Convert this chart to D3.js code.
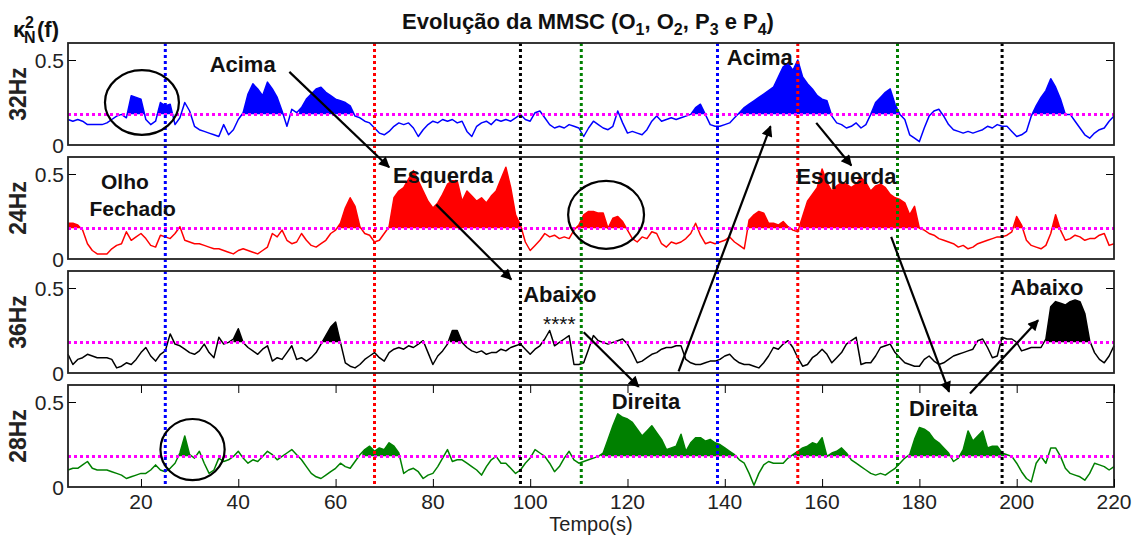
<!DOCTYPE html>
<html>
<head>
<meta charset="utf-8">
<script src="https://cdn.jsdelivr.net/npm/d3@7"></script>
<style>
body { margin: 0; background: #fff; }
text { font-family: "Liberation Sans", Arial, Helvetica, sans-serif; }
</style>
</head>
<body>
<div id="chart"></div>
<script>
// samples, one per second, from 5 s to 220 s
const seconds = d3.range(5, 221);

const kappa32Hz = [
    0.15, 0.14, 0.15, 0.14, 0.12, 0.12, 0.12, 0.12, 0.13, 0.15,
    0.17, 0.18, 0.16, 0.29, 0.28, 0.27, 0.15, 0.12, 0.14, 0.25,
    0.23, 0.24, 0.12, 0.16, 0.25, 0.20, 0.11, 0.09, 0.08, 0.07,
    0.06, 0.05, 0.12, 0.06, 0.09, 0.15, 0.19, 0.30, 0.36, 0.33,
    0.29, 0.37, 0.33, 0.28, 0.20, 0.11, 0.21, 0.19, 0.22, 0.27,
    0.30, 0.33, 0.34, 0.31, 0.29, 0.27, 0.26, 0.25, 0.23, 0.17,
    0.16, 0.14, 0.13, 0.10, 0.07, 0.06, 0.08, 0.11, 0.13, 0.12,
    0.13, 0.10, 0.05, 0.09, 0.12, 0.14, 0.13, 0.15, 0.14, 0.15,
    0.13, 0.14, 0.08, 0.05, 0.11, 0.13, 0.14, 0.12, 0.15, 0.14,
    0.15, 0.14, 0.16, 0.18, 0.15, 0.14, 0.19, 0.20, 0.16, 0.12,
    0.10, 0.11, 0.10, 0.12, 0.11, 0.10, 0.05, 0.10, 0.14, 0.12,
    0.10, 0.09, 0.11, 0.20, 0.13, 0.07, 0.08, 0.07, 0.06, 0.09,
    0.14, 0.17, 0.14, 0.15, 0.16, 0.15, 0.16, 0.17, 0.18, 0.22,
    0.24, 0.18, 0.12, 0.11, 0.11, 0.12, 0.13, 0.16, 0.19, 0.22,
    0.24, 0.26, 0.28, 0.30, 0.32, 0.34, 0.40, 0.46, 0.48, 0.44,
    0.50, 0.40, 0.36, 0.33, 0.29, 0.27, 0.26, 0.17, 0.13, 0.12,
    0.10, 0.11, 0.13, 0.10, 0.12, 0.18, 0.25, 0.28, 0.31, 0.33,
    0.24, 0.18, 0.15, 0.06, 0.04, 0.02, 0.10, 0.17, 0.20, 0.21,
    0.17, 0.12, 0.09, 0.08, 0.07, 0.08, 0.07, 0.08, 0.09, 0.11,
    0.10, 0.12, 0.11, 0.11, 0.08, 0.05, 0.06, 0.08, 0.17, 0.23,
    0.28, 0.32, 0.39, 0.34, 0.27, 0.18, 0.18, 0.14, 0.10, 0.06,
    0.04, 0.07, 0.09, 0.10, 0.14, 0.17
];

const kappa24Hz = [
    0.21, 0.21, 0.20, 0.17, 0.09, 0.05, 0.03, 0.03, 0.03, 0.06,
    0.08, 0.09, 0.16, 0.11, 0.13, 0.15, 0.12, 0.08, 0.07, 0.14,
    0.13, 0.12, 0.15, 0.19, 0.11, 0.10, 0.09, 0.09, 0.08, 0.07,
    0.06, 0.06, 0.05, 0.04, 0.03, 0.05, 0.06, 0.05, 0.04, 0.03,
    0.05, 0.07, 0.15, 0.13, 0.17, 0.11, 0.09, 0.10, 0.15, 0.11,
    0.08, 0.07, 0.09, 0.11, 0.15, 0.17, 0.21, 0.30, 0.36, 0.31,
    0.19, 0.15, 0.14, 0.10, 0.11, 0.15, 0.19, 0.36, 0.40, 0.42,
    0.47, 0.52, 0.46, 0.40, 0.34, 0.30, 0.33, 0.38, 0.44, 0.46,
    0.46, 0.34, 0.40, 0.37, 0.34, 0.36, 0.33, 0.37, 0.40, 0.47,
    0.54, 0.42, 0.26, 0.20, 0.10, 0.05, 0.08, 0.11, 0.15, 0.13,
    0.14, 0.12, 0.13, 0.12, 0.17, 0.20, 0.26, 0.28, 0.28, 0.27,
    0.27, 0.18, 0.24, 0.25, 0.22, 0.17, 0.12, 0.10, 0.13, 0.12,
    0.16, 0.15, 0.09, 0.07, 0.10, 0.09, 0.10, 0.12, 0.15, 0.21,
    0.14, 0.09, 0.10, 0.09, 0.10, 0.11, 0.13, 0.10, 0.08, 0.06,
    0.23, 0.26, 0.28, 0.27, 0.21, 0.21, 0.20, 0.22, 0.19, 0.17,
    0.16, 0.25, 0.34, 0.38, 0.42, 0.53, 0.45, 0.40, 0.43, 0.45,
    0.44, 0.42, 0.44, 0.48, 0.45, 0.40, 0.43, 0.44, 0.42, 0.38,
    0.36, 0.35, 0.33, 0.26, 0.31, 0.18, 0.17, 0.15, 0.14, 0.12,
    0.11, 0.10, 0.09, 0.07, 0.08, 0.06, 0.07, 0.09, 0.10, 0.11,
    0.12, 0.13, 0.13, 0.14, 0.16, 0.25, 0.20, 0.11, 0.08, 0.07,
    0.06, 0.08, 0.15, 0.26, 0.17, 0.11, 0.12, 0.14, 0.13, 0.11,
    0.12, 0.12, 0.14, 0.15, 0.08, 0.09
];

const kappa36Hz = [
    0.11, 0.05, 0.08, 0.09, 0.11, 0.10, 0.09, 0.09, 0.09, 0.08,
    0.03, 0.04, 0.06, 0.05, 0.08, 0.12, 0.15, 0.10, 0.07, 0.11,
    0.13, 0.23, 0.17, 0.16, 0.14, 0.12, 0.11, 0.13, 0.17, 0.12,
    0.09, 0.21, 0.17, 0.18, 0.20, 0.26, 0.18, 0.15, 0.13, 0.11,
    0.14, 0.16, 0.07, 0.09, 0.08, 0.12, 0.16, 0.08, 0.09, 0.07,
    0.09, 0.12, 0.17, 0.22, 0.27, 0.30, 0.18, 0.06, 0.04, 0.03,
    0.05, 0.08, 0.10, 0.12, 0.09, 0.07, 0.12, 0.14, 0.15, 0.14,
    0.16, 0.15, 0.17, 0.19, 0.12, 0.05, 0.10, 0.13, 0.17, 0.25,
    0.25, 0.18, 0.15, 0.13, 0.12, 0.13, 0.11, 0.12, 0.12, 0.14,
    0.13, 0.15, 0.16, 0.17, 0.14, 0.11, 0.14, 0.16, 0.20, 0.25,
    0.16, 0.18, 0.20, 0.22, 0.05, 0.05, 0.06, 0.14, 0.22, 0.19,
    0.18, 0.17, 0.18, 0.19, 0.20, 0.17, 0.12, 0.06, 0.07, 0.09,
    0.11, 0.12, 0.14, 0.15, 0.15, 0.16, 0.16, 0.08, 0.06, 0.05,
    0.05, 0.06, 0.07, 0.07, 0.08, 0.10, 0.11, 0.08, 0.06, 0.05,
    0.05, 0.04, 0.03, 0.06, 0.10, 0.15, 0.14, 0.17, 0.19, 0.15,
    0.09, 0.04, 0.05, 0.09, 0.11, 0.14, 0.11, 0.06, 0.09, 0.12,
    0.17, 0.19, 0.21, 0.05, 0.06, 0.06, 0.10, 0.15, 0.16, 0.17,
    0.12, 0.09, 0.06, 0.05, 0.04, 0.04, 0.08, 0.10, 0.07, 0.05,
    0.06, 0.08, 0.10, 0.11, 0.12, 0.13, 0.14, 0.19, 0.20, 0.15,
    0.09, 0.10, 0.21, 0.20, 0.20, 0.18, 0.13, 0.14, 0.15, 0.15,
    0.15, 0.20, 0.39, 0.42, 0.41, 0.40, 0.42, 0.43, 0.42, 0.35,
    0.19, 0.12, 0.08, 0.06, 0.10, 0.16
];

const kappa28Hz = [
    0.10, 0.11, 0.11, 0.13, 0.15, 0.11, 0.10, 0.10, 0.10, 0.09,
    0.08, 0.07, 0.05, 0.06, 0.07, 0.08, 0.08, 0.10, 0.13, 0.10,
    0.09, 0.11, 0.14, 0.20, 0.30, 0.19, 0.17, 0.21, 0.14, 0.08,
    0.10, 0.17, 0.15, 0.16, 0.18, 0.21, 0.17, 0.14, 0.16, 0.15,
    0.18, 0.21, 0.19, 0.16, 0.18, 0.20, 0.22, 0.19, 0.16, 0.12,
    0.08, 0.06, 0.05, 0.07, 0.09, 0.11, 0.14, 0.12, 0.11, 0.15,
    0.19, 0.22, 0.24, 0.21, 0.23, 0.22, 0.26, 0.24, 0.20, 0.08,
    0.10, 0.11, 0.09, 0.05, 0.07, 0.08, 0.12, 0.17, 0.22, 0.15,
    0.16, 0.16, 0.14, 0.12, 0.10, 0.07, 0.12, 0.16, 0.18, 0.14,
    0.14, 0.11, 0.08, 0.10, 0.14, 0.17, 0.22, 0.20, 0.18, 0.14,
    0.09, 0.12, 0.17, 0.21, 0.16, 0.14, 0.15, 0.16, 0.17, 0.18,
    0.20, 0.28, 0.36, 0.43, 0.41, 0.40, 0.38, 0.34, 0.30, 0.33,
    0.36, 0.32, 0.28, 0.22, 0.23, 0.24, 0.31, 0.21, 0.26, 0.29,
    0.29, 0.27, 0.28, 0.26, 0.25, 0.23, 0.21, 0.19, 0.16, 0.14,
    0.08, 0.01, 0.08, 0.13, 0.15, 0.14, 0.14, 0.14, 0.17, 0.19,
    0.21, 0.23, 0.24, 0.26, 0.25, 0.29, 0.18, 0.20, 0.21, 0.23,
    0.20, 0.16, 0.14, 0.12, 0.10, 0.08, 0.07, 0.08, 0.07, 0.09,
    0.11, 0.14, 0.17, 0.19, 0.28, 0.35, 0.34, 0.32, 0.28, 0.26,
    0.23, 0.20, 0.15, 0.17, 0.22, 0.33, 0.27, 0.30, 0.33, 0.23,
    0.24, 0.24, 0.20, 0.19, 0.18, 0.14, 0.09, 0.05, 0.03, 0.14,
    0.18, 0.14, 0.23, 0.23, 0.18, 0.11, 0.08, 0.07, 0.06, 0.04,
    0.08, 0.14, 0.13, 0.12, 0.10, 0.12
];

const bandNames = ['32Hz', '24Hz', '36Hz', '28Hz'];
const bandColors = ['#0000ff', '#ff0000', '#000000', '#008000'];
const bandSeries = [kappa32Hz, kappa24Hz, kappa36Hz, kappa28Hz];

// stretches (s) shaded above the detection threshold
const shaded32Hz = [[17, 21], [23, 27], [41, 50], [52.5, 64], [133, 136.5], [142.5, 162], [170, 176], [203, 210.5]];
const shaded24Hz = [[5, 7.8], [60, 66], [70.5, 98.7], [109.5, 120], [144.5, 154], [155.5, 181], [199.5, 202], [207, 209.5]];
const shaded36Hz = [[39, 41], [57, 61], [83.5, 86], [206, 215]];
const shaded28Hz = [[27.5, 30], [65.5, 73.5], [114.5, 142.7], [154, 165.8], [177.5, 187], [188.5, 197.5]];
const bandShaded = [shaded32Hz, shaded24Hz, shaded36Hz, shaded28Hz];

const threshold = 0.18;

const cueTimes = [25, 68, 98, 110.5, 138.5, 155, 175.5, 197];
const cueColors = ['#0000ff', '#ff0000', '#000000', '#008000', '#0000ff', '#ff0000', '#008000', '#000000'];

const xTickValues = [20, 40, 60, 80, 100, 120, 140, 160, 180, 200, 220];
const yTickValues = [0, 0.5];

displayMmscChart('chart');

function displayMmscChart(divId) {
    const svgWidth = 1137;
    const svgHeight = 535;

    const plotLeft = 68;
    const plotRight = 1114;
    const firstTop = 43;
    const panelHeight = 102;
    const panelGap = 12;

    const svg = d3.select('#' + divId)
        .append('svg')
        .attr('width', svgWidth)
        .attr('height', svgHeight)
        .attr('viewBox', '0 0 ' + svgWidth + ' ' + svgHeight);

    const x = d3.scaleLinear()
        .domain([5, 220])
        .range([plotLeft, plotRight]);

    const panelTops = bandNames.map((name, index) => firstTop + index * (panelHeight + panelGap));
    const yScales = panelTops.map(top => d3.scaleLinear()
        .domain([0, 0.6])
        .range([top + panelHeight, top]));

    const defs = svg.append('defs');

    defs.append('marker')
        .attr('id', 'arrowhead')
        .attr('viewBox', '0 0 10 10')
        .attr('refX', 9)
        .attr('refY', 5)
        .attr('markerUnits', 'userSpaceOnUse')
        .attr('markerWidth', 13)
        .attr('markerHeight', 11)
        .attr('orient', 'auto')
        .append('path')
            .attr('d', 'M 0 0 L 10 5 L 0 10 z')
            .attr('fill', 'black');

    // panels
    bandNames.forEach((name, index) => {
        const y = yScales[index];
        const values = bandSeries[index];
        const points = seconds.map((t, i) => [t, values[i]]);
        const panel = svg.append('g');

        const clip = defs.append('clipPath')
            .attr('id', 'shade-' + index);
        bandShaded[index].forEach(range => {
            clip.append('rect')
                .attr('x', x(range[0]))
                .attr('y', y(0.6))
                .attr('width', x(range[1]) - x(range[0]))
                .attr('height', y(threshold) - y(0.6));
        });

        panel.append('path')
            .datum(points)
            .attr('clip-path', 'url(#shade-' + index + ')')
            .attr('fill', bandColors[index])
            .attr('d', d3.area()
                .x(d => x(d[0]))
                .y0(y(threshold))
                .y1(d => y(d[1])));

        panel.append('path')
            .datum(points)
            .attr('fill', 'none')
            .attr('stroke', bandColors[index])
            .attr('stroke-width', 1.5)
            .attr('stroke-linejoin', 'round')
            .attr('d', d3.line()
                .x(d => x(d[0]))
                .y(d => y(d[1])));

        panel.append('line')
            .attr('x1', x(5))
            .attr('x2', x(220))
            .attr('y1', y(threshold))
            .attr('y2', y(threshold))
            .attr('stroke', '#ff00ff')
            .attr('stroke-width', 3)
            .attr('stroke-dasharray', '3,3');

        // y ticks, inward on both sides
        panel.append('g')
            .attr('transform', `translate(${plotLeft}, 0)`)
            .call(d3.axisRight(y).tickValues([0.5]).tickSize(8).tickFormat(''))
            .call(g => g.select('.domain').remove());
        panel.append('g')
            .attr('transform', `translate(${plotRight}, 0)`)
            .call(d3.axisLeft(y).tickValues([0.5]).tickSize(8).tickFormat(''))
            .call(g => g.select('.domain').remove());

        yTickValues.forEach(value => {
            panel.append('text')
                .attr('x', plotLeft - 4)
                .attr('y', y(value))
                .attr('dy', '0.36em')
                .attr('text-anchor', 'end')
                .attr('font-size', 21)
                .attr('fill', '#222')
                .text(value === 0 ? '0' : '0.5');
        });

        panel.append('text')
            .attr('transform', `translate(26, ${panelTops[index] + panelHeight / 2}) rotate(-90)`)
            .attr('text-anchor', 'middle')
            .attr('font-size', 23)
            .attr('font-weight', 'bold')
            .attr('fill', '#222')
            .text(name);
    });

    // vertical cue markers
    cueTimes.forEach((t, index) => {
        svg.append('line')
            .attr('x1', x(t))
            .attr('x2', x(t))
            .attr('y1', yScales[0](0.6))
            .attr('y2', yScales[3](0))
            .attr('stroke', cueColors[index])
            .attr('stroke-width', 3)
            .attr('stroke-dasharray', '3,3');
    });

    // frames
    panelTops.forEach(top => {
        svg.append('rect')
            .attr('x', plotLeft)
            .attr('y', top)
            .attr('width', plotRight - plotLeft)
            .attr('height', panelHeight)
            .attr('fill', 'none')
            .attr('stroke', '#222')
            .attr('stroke-width', 1.8);
    });

    // x axis on the last panel (ticks inward, top and bottom)
    const lastTop = panelTops[3];
    svg.append('g')
        .attr('transform', `translate(0, ${lastTop + panelHeight})`)
        .call(d3.axisTop(x).tickValues(xTickValues).tickSize(8).tickFormat(''))
        .call(g => g.select('.domain').remove());
    svg.append('g')
        .attr('transform', `translate(0, ${lastTop})`)
        .call(d3.axisBottom(x).tickValues(xTickValues).tickSize(8).tickFormat(''))
        .call(g => g.select('.domain').remove());

    xTickValues.forEach(value => {
        svg.append('text')
            .attr('x', x(value))
            .attr('y', lastTop + panelHeight + 22)
            .attr('text-anchor', 'middle')
            .attr('font-size', 21)
            .attr('fill', '#222')
            .text(value);
    });

    svg.append('text')
        .attr('x', (plotLeft + plotRight) / 2)
        .attr('y', 531)
        .attr('text-anchor', 'middle')
        .attr('font-size', 20)
        .attr('fill', '#222')
        .text('Tempo(s)');

    // title with subscripts
    const title = svg.append('text')
        .attr('x', 588)
        .attr('y', 29)
        .attr('text-anchor', 'middle')
        .attr('font-size', 22)
        .attr('font-weight', 'bold')
        .attr('fill', '#111');
    const titleParts = [['Evolução da MMSC (O', ''], ['1', 'sub'], [', O', ''], ['2', 'sub'], [', P', ''], ['3', 'sub'], [' e P', ''], ['4', 'sub'], [')', '']];
    titleParts.forEach((part, index) => {
        const span = title.append('tspan').text(part[0]);
        if (part[1] === 'sub') {
            span.attr('font-size', 16).attr('dy', 6);
        } else if (index > 0) {
            span.attr('dy', -6);
        }
    });

    // y label κ²N(f)
    const yLabel = svg.append('g')
        .attr('font-weight', 'bold')
        .attr('fill', '#111');
    yLabel.append('text').attr('x', 13).attr('y', 37).attr('font-size', 22).text('κ');
    yLabel.append('text').attr('x', 25).attr('y', 28).attr('font-size', 16).text('2');
    yLabel.append('text').attr('x', 24).attr('y', 43).attr('font-size', 16).text('N');
    yLabel.append('text').attr('x', 37).attr('y', 37).attr('font-size', 22).text('(f)');

    // annotations, placed in (panel, time, value) coordinates
    const at = (panel, t, v) => [x(t), yScales[panel](v)];

    const labels = [
        { text: 'Acima', panel: 0, t: 40.9, v: 0.43, size: 22 },
        { text: 'Olho', panel: 1, t: 16.7, v: 0.41, size: 21 },
        { text: 'Fechado', panel: 1, t: 18.3, v: 0.255, size: 21 },
        { text: 'Esquerda', panel: 1, t: 82.1, v: 0.45, size: 22 },
        { text: 'Abaixo', panel: 2, t: 106.1, v: 0.42, size: 22 },
        { text: 'Direita', panel: 3, t: 123.8, v: 0.46, size: 22 },
        { text: 'Acima', panel: 0, t: 147.2, v: 0.47, size: 22 },
        { text: 'Esquerda', panel: 1, t: 165, v: 0.44, size: 22 },
        { text: 'Direita', panel: 3, t: 184.9, v: 0.42, size: 22 },
        { text: 'Abaixo', panel: 2, t: 206.2, v: 0.46, size: 22 }
    ];
    labels.forEach(label => {
        const p = at(label.panel, label.t, label.v);
        svg.append('text')
            .attr('x', p[0])
            .attr('y', p[1])
            .attr('text-anchor', 'middle')
            .attr('font-size', label.size)
            .attr('font-weight', 'bold')
            .attr('fill', '#111')
            .text(label.text);
    });

    const stars = at(2, 106, 0.25);
    svg.append('text')
        .attr('x', stars[0])
        .attr('y', stars[1])
        .attr('text-anchor', 'middle')
        .attr('font-size', 21)
        .attr('fill', '#111')
        .text('****');

    const arrows = [
        [[0, 50.5, 0.43], [1, 71, 0.54]],
        [[1, 80.7, 0.32], [2, 96.1, 0.55]],
        [[2, 111, 0.24], [3, 122.3, 0.59]],
        [[3, 130.5, 0.68], [0, 149.4, 0.11]],
        [[0, 158.8, 0.13], [1, 166, 0.55]],
        [[1, 174.2, 0.13], [3, 186.1, 0.56]],
        [[3, 190.4, 0.55], [2, 204.4, 0.31]]
    ];
    arrows.forEach(arrow => {
        const start = at(...arrow[0]);
        const end = at(...arrow[1]);
        svg.append('line')
            .attr('x1', start[0])
            .attr('y1', start[1])
            .attr('x2', end[0])
            .attr('y2', end[1])
            .attr('stroke', 'black')
            .attr('stroke-width', 2.2)
            .attr('marker-end', 'url(#arrowhead)');
    });

    const circles = [
        { panel: 0, t: 20.2, v: 0.25, rt: 7.6, rv: 0.19 },
        { panel: 1, t: 115.6, v: 0.26, rt: 7.8, rv: 0.2 },
        { panel: 3, t: 30.6, v: 0.22, rt: 6.6, rv: 0.18 }
    ];
    circles.forEach(circle => {
        const c = at(circle.panel, circle.t, circle.v);
        svg.append('ellipse')
            .attr('cx', c[0])
            .attr('cy', c[1])
            .attr('rx', x(circle.t + circle.rt) - x(circle.t))
            .attr('ry', yScales[circle.panel](0) - yScales[circle.panel](circle.rv))
            .attr('fill', 'none')
            .attr('stroke', 'black')
            .attr('stroke-width', 2.2);
    });
}
</script>
</body>
</html>
